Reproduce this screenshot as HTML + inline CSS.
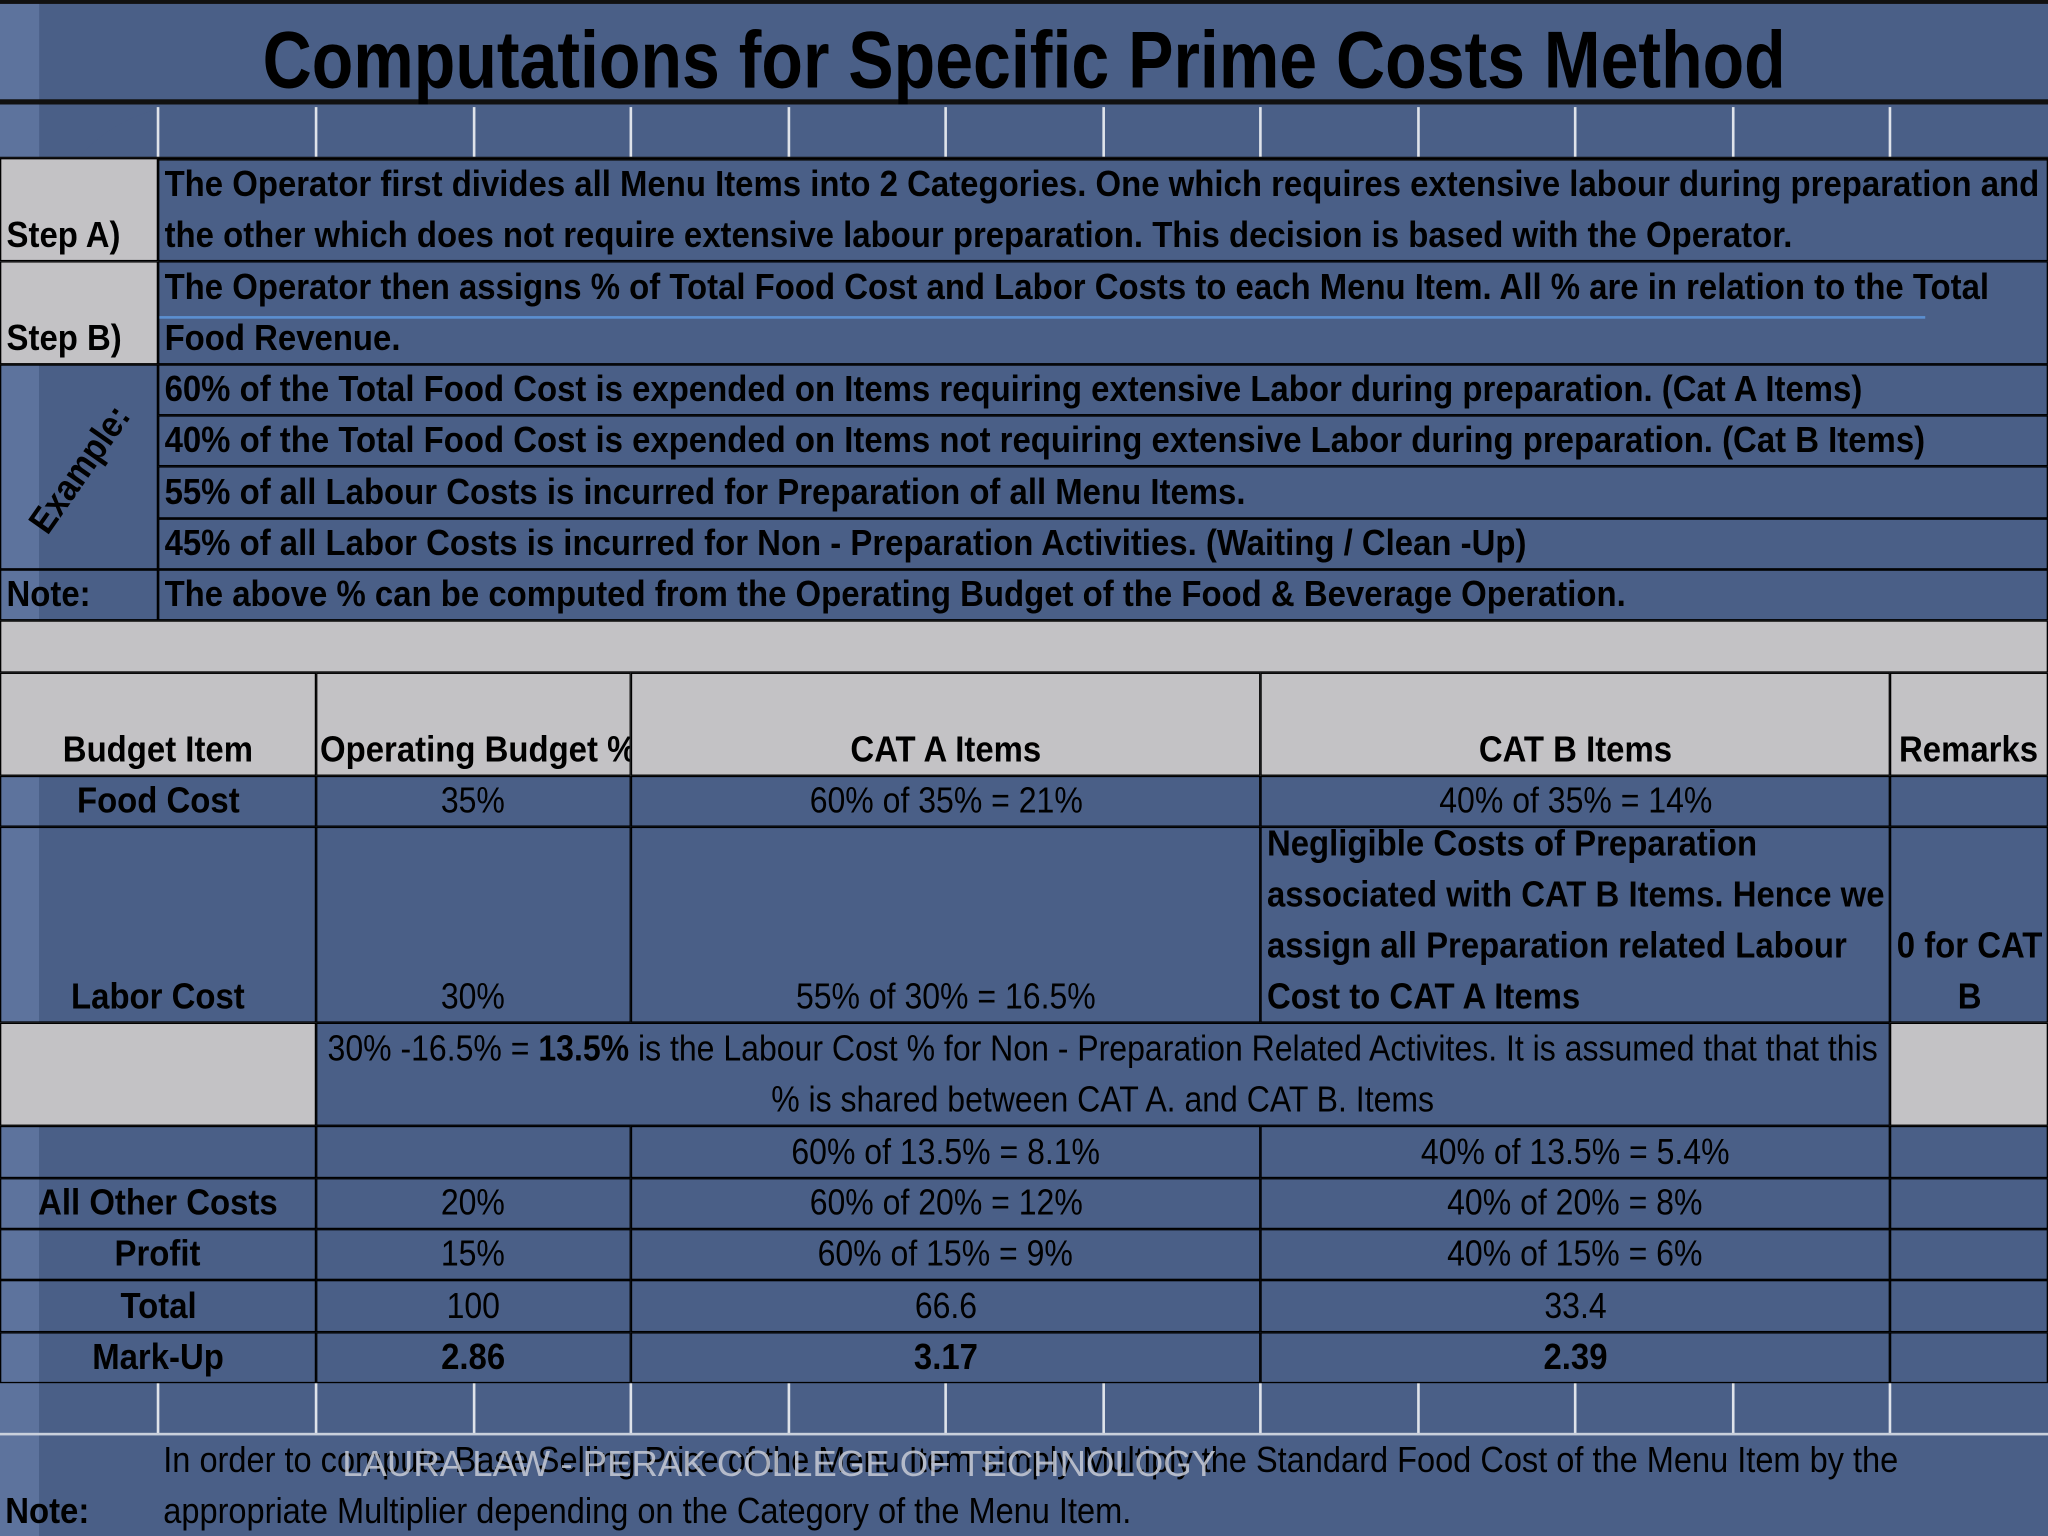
<!DOCTYPE html>
<html><head><meta charset="utf-8"><style>
html,body{margin:0;padding:0;background:#4b6089;}
#page{position:absolute;left:0;top:0;width:1568px;height:1176px;transform:scale(1.306122);transform-origin:0 0;overflow:hidden;background:#4a5f87;font-family:"Liberation Sans Narrow","Liberation Sans",sans-serif;color:#000;}
.c{position:absolute;box-sizing:border-box;border:1px solid #000;display:flex;align-items:flex-end;font-size:28px;line-height:39px;white-space:nowrap;overflow:visible;}
.c>span{display:inline-block;transform:scaleX(.875);transform-origin:left bottom;}
.c.b>span{transform:scaleX(.9);}
.ctr>span{transform-origin:center bottom !important;text-align:center;}
.g{background:#c3c2c5;}
.b{font-weight:bold;}
.ctr{justify-content:center;text-align:center;}
.l{padding-left:4px;}
.vl{position:absolute;width:2px;background:#dfe3ea;}
.hl{position:absolute;height:3px;background:#111;left:0;width:1568px;}
</style></head><body>
<div id="page">
<div style="position:absolute;left:0;top:0;width:30px;height:1176px;background:#6b80ac;opacity:.6"></div>
<div style="position:absolute;left:30px;top:80px;width:1600px;height:1100px;border-radius:120px 0 0 0;background:#4a5f87"></div>
<div style="position:absolute;left:0;top:0;width:1568px;height:80px;border-top:3px solid #111;border-bottom:4px solid #111;box-sizing:border-box;text-align:center;font-weight:bold;font-size:62px;line-height:88px;"><span style="display:inline-block;transform:scaleX(.84);transform-origin:center">Computations for Specific Prime Costs Method</span></div>
<div>
<div class="vl" style="left:120px;top:82px;height:39px"></div><div class="vl" style="left:241px;top:82px;height:39px"></div><div class="vl" style="left:362px;top:82px;height:39px"></div><div class="vl" style="left:482px;top:82px;height:39px"></div><div class="vl" style="left:603px;top:82px;height:39px"></div><div class="vl" style="left:723px;top:82px;height:39px"></div><div class="vl" style="left:844px;top:82px;height:39px"></div><div class="vl" style="left:964px;top:82px;height:39px"></div><div class="vl" style="left:1085px;top:82px;height:39px"></div><div class="vl" style="left:1205px;top:82px;height:39px"></div><div class="vl" style="left:1326px;top:82px;height:39px"></div><div class="vl" style="left:1446px;top:82px;height:39px"></div>
<div class="vl" style="left:120px;top:1059px;height:39px"></div><div class="vl" style="left:241px;top:1059px;height:39px"></div><div class="vl" style="left:362px;top:1059px;height:39px"></div><div class="vl" style="left:482px;top:1059px;height:39px"></div><div class="vl" style="left:603px;top:1059px;height:39px"></div><div class="vl" style="left:723px;top:1059px;height:39px"></div><div class="vl" style="left:844px;top:1059px;height:39px"></div><div class="vl" style="left:964px;top:1059px;height:39px"></div><div class="vl" style="left:1085px;top:1059px;height:39px"></div><div class="vl" style="left:1205px;top:1059px;height:39px"></div><div class="vl" style="left:1326px;top:1059px;height:39px"></div><div class="vl" style="left:1446px;top:1059px;height:39px"></div>
</div>
<div class="hl" style="top:120px"></div>
<div class="c g b l" style="left:0;top:121px;width:121px;height:79px"><span>Step A)</span></div>
<div class="c b l" style="left:121px;top:121px;width:1447px;height:79px"><span>The Operator first divides all Menu Items into 2 Categories. One which requires extensive labour during preparation and<br>the other which does not require extensive labour preparation. This decision is based with the Operator.</span></div>
<div class="c g b l" style="left:0;top:200px;width:121px;height:79px"><span>Step B)</span></div>
<div class="c b l" style="left:121px;top:200px;width:1447px;height:79px"><span>The Operator then assigns % of Total Food Cost and Labor Costs to each Menu Item. All % are in relation to the Total<br>Food Revenue.</span></div>
<div style="position:absolute;left:122px;top:242px;width:1352px;height:2px;background:#5b8fd0"></div>
<div class="c" style="left:0;top:279px;width:121px;height:157px"></div>
<div style="position:absolute;left:0;top:345px;width:120px;text-align:center;font-weight:bold;font-size:28px;transform:rotate(-55deg) scaleX(.9);">Example:</div>
<div class="c b l" style="left:121px;top:279px;width:1447px;height:39px"><span>60% of the Total Food Cost is expended on Items requiring extensive Labor during preparation. (Cat A Items)</span></div>
<div class="c b l" style="left:121px;top:318px;width:1447px;height:39px"><span>40% of the Total Food Cost is expended on Items not requiring extensive Labor during preparation. (Cat B Items)</span></div>
<div class="c b l" style="left:121px;top:357px;width:1447px;height:40px"><span>55% of all Labour Costs is incurred for Preparation of all Menu Items.</span></div>
<div class="c b l" style="left:121px;top:397px;width:1447px;height:39px"><span>45% of all Labor Costs is incurred for Non - Preparation Activities. (Waiting / Clean -Up)</span></div>
<div class="c b l" style="left:0;top:436px;width:121px;height:39px"><span>Note:</span></div>
<div class="c b l" style="left:121px;top:436px;width:1447px;height:39px"><span>The above % can be computed from the Operating Budget of the Food &amp; Beverage Operation.</span></div>
<div class="c g" style="left:0;top:475px;width:1568px;height:40px"></div>
<div class="c g b ctr" style="left:0;top:515px;width:242px;height:79px"><span>Budget Item</span></div>
<div class="c g b" style="left:242px;top:515px;width:241px;height:79px;padding-left:2px;overflow:hidden"><span>Operating Budget %</span></div>
<div class="c g b ctr" style="left:483px;top:515px;width:482px;height:79px"><span>CAT A Items</span></div>
<div class="c g b ctr" style="left:965px;top:515px;width:482px;height:79px"><span>CAT B Items</span></div>
<div class="c g b ctr" style="left:1447px;top:515px;width:121px;height:79px"><span>Remarks</span></div>
<div class="c b ctr" style="left:0;top:594px;width:242px;height:39px"><span>Food Cost</span></div>
<div class="c ctr" style="left:242px;top:594px;width:241px;height:39px"><span>35%</span></div>
<div class="c ctr" style="left:483px;top:594px;width:482px;height:39px"><span>60% of 35% = 21%</span></div>
<div class="c ctr" style="left:965px;top:594px;width:482px;height:39px"><span>40% of 35% = 14%</span></div>
<div class="c" style="left:1447px;top:594px;width:121px;height:39px"></div>
<div class="c b ctr" style="left:0;top:633px;width:242px;height:150px"><span>Labor Cost</span></div>
<div class="c ctr" style="left:242px;top:633px;width:241px;height:150px"><span>30%</span></div>
<div class="c ctr" style="left:483px;top:633px;width:482px;height:150px"><span>55% of 30% = 16.5%</span></div>
<div class="c b l" style="left:965px;top:633px;width:482px;height:150px"><span>Negligible Costs of Preparation<br>associated with CAT B Items. Hence we<br>assign all Preparation related Labour<br>Cost to CAT A Items</span></div>
<div class="c b ctr" style="left:1447px;top:633px;width:121px;height:150px"><span>0 for CAT<br>B</span></div>
<div class="c g" style="left:0;top:783px;width:242px;height:79px"></div>
<div class="c ctr" style="left:242px;top:783px;width:1205px;height:79px"><span>30% -16.5% = <b>13.5%</b> is the Labour Cost % for Non - Preparation Related Activites. It is assumed that that this<br>% is shared between CAT A. and CAT B. Items</span></div>
<div class="c g" style="left:1447px;top:783px;width:121px;height:79px"></div>
<div class="c" style="left:0;top:862px;width:242px;height:40px"></div>
<div class="c" style="left:242px;top:862px;width:241px;height:40px"></div>
<div class="c ctr" style="left:483px;top:862px;width:482px;height:40px"><span>60% of 13.5% = 8.1%</span></div>
<div class="c ctr" style="left:965px;top:862px;width:482px;height:40px"><span>40% of 13.5% = 5.4%</span></div>
<div class="c" style="left:1447px;top:862px;width:121px;height:40px"></div>
<div class="c b ctr" style="left:0;top:902px;width:242px;height:39px"><span>All Other Costs</span></div>
<div class="c ctr" style="left:242px;top:902px;width:241px;height:39px"><span>20%</span></div>
<div class="c ctr" style="left:483px;top:902px;width:482px;height:39px"><span>60% of 20% = 12%</span></div>
<div class="c ctr" style="left:965px;top:902px;width:482px;height:39px"><span>40% of 20% = 8%</span></div>
<div class="c" style="left:1447px;top:902px;width:121px;height:39px"></div>
<div class="c b ctr" style="left:0;top:941px;width:242px;height:39px"><span>Profit</span></div>
<div class="c ctr" style="left:242px;top:941px;width:241px;height:39px"><span>15%</span></div>
<div class="c ctr" style="left:483px;top:941px;width:482px;height:39px"><span>60% of 15% = 9%</span></div>
<div class="c ctr" style="left:965px;top:941px;width:482px;height:39px"><span>40% of 15% = 6%</span></div>
<div class="c" style="left:1447px;top:941px;width:121px;height:39px"></div>
<div class="c b ctr" style="left:0;top:980px;width:242px;height:40px"><span>Total</span></div>
<div class="c ctr" style="left:242px;top:980px;width:241px;height:40px"><span>100</span></div>
<div class="c ctr" style="left:483px;top:980px;width:482px;height:40px"><span>66.6</span></div>
<div class="c ctr" style="left:965px;top:980px;width:482px;height:40px"><span>33.4</span></div>
<div class="c" style="left:1447px;top:980px;width:121px;height:40px"></div>
<div class="c b ctr" style="left:0;top:1020px;width:242px;height:39px"><span>Mark-Up</span></div>
<div class="c b ctr" style="left:242px;top:1020px;width:241px;height:39px"><span>2.86</span></div>
<div class="c b ctr" style="left:483px;top:1020px;width:482px;height:39px"><span>3.17</span></div>
<div class="c b ctr" style="left:965px;top:1020px;width:482px;height:39px"><span>2.39</span></div>
<div class="c" style="left:1447px;top:1020px;width:121px;height:39px"></div>
<div class="hl" style="top:1097px;height:2px;background:#c9d0dc"></div>
<div class="c b l" style="left:0;top:1098px;width:121px;height:78px;border:none"><span>Note:</span></div>
<div class="c l" style="left:121px;top:1098px;width:1447px;height:78px;border:none"><span style="transform:scaleX(.89)">In order to compute Base Selling Price of the Menu Item simply Multiply the Standard Food Cost of the Menu Item by the<br>appropriate Multiplier depending on the Category of the Menu Item.</span></div>
<div style="position:absolute;left:262px;top:1105px;font-family:'Liberation Sans',sans-serif;font-size:28px;color:#c8ccd6;opacity:.85;white-space:nowrap">LAURA LAW - PERAK COLLEGE OF TECHNOLOGY</div>
</div>
</body></html>
